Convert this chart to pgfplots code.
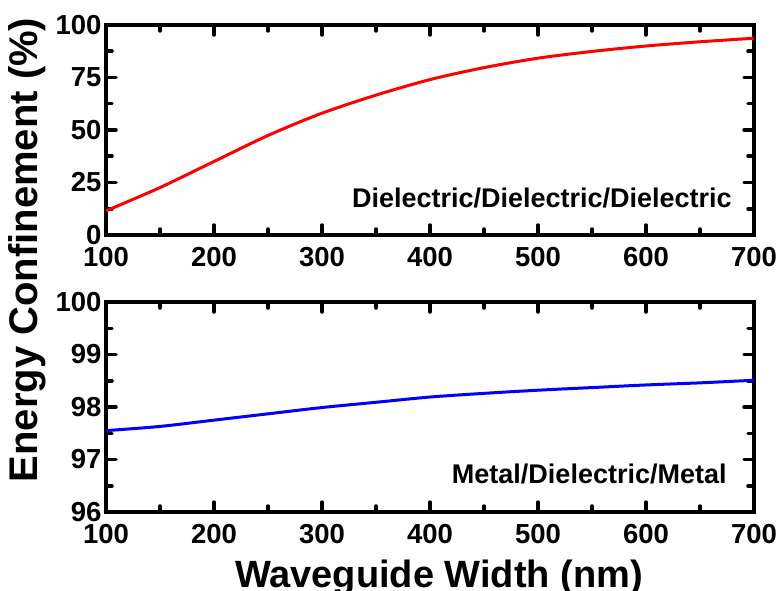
\documentclass[border=0pt]{standalone}
\usepackage{pgfplots}
\pgfplotsset{compat=1.18}
\usepackage{fontspec}
\setmainfont{Liberation Sans}
\begin{document}
\begin{tikzpicture}
\useasboundingbox (0pt,0pt) rectangle (778pt,590pt);
\pgfplotsset{
  myax/.style={
    scale only axis, width=648pt, height=210pt,
    anchor=south west,
    xmin=100, xmax=700,
    xtick={100,200,...,700},
    minor x tick num=1,
    minor y tick num=1,
    axis line style={line width=3.5pt},
    tick style={line width=3.5pt, line cap=round, black},
    major tick length=10pt,
    minor tick length=6pt,
    tick align=inside,
    tick pos=both,
    xticklabel pos=left, yticklabel pos=left,
    ticklabel style={font=\fontsize{27.5}{32}\selectfont\bfseries},
    /pgf/number format/assume math mode=true,
    /pgf/number format/1000 sep={},
    x tick label style={yshift=-9pt},
    y tick label style={xshift=-1pt},
    clip=false,
  }
}
\begin{axis}[myax, at={(106pt,355pt)},
  ymin=0, ymax=100, ytick={0,25,50,75,100}]
\addplot[red, line width=3pt, smooth] coordinates {
(100,11.5) (150,22.6) (200,35) (250,47.4) (300,58) (350,66.6) (400,74)
(450,79.7) (500,84.2) (550,87.4) (600,90) (650,92) (700,93.7)};
\node[anchor=base east, inner sep=0pt, font=\fontsize{27}{30}\selectfont\bfseries] at (rel axis cs:0.966,0.133) {Dielectric/Dielectric/Dielectric};
\end{axis}
\begin{axis}[myax, at={(106pt,78pt)},
  ymin=96, ymax=100, ytick={96,97,98,99,100}]
\addplot[blue, line width=3pt, smooth] coordinates {
(100,97.55) (150,97.63) (200,97.75) (250,97.87) (300,97.99) (350,98.09) (400,98.19)
(450,98.26) (500,98.32) (550,98.37) (600,98.42) (650,98.46) (700,98.51)};
\node[anchor=base east, inner sep=0pt, font=\fontsize{27}{30}\selectfont\bfseries] at (rel axis cs:0.958,0.138) {Metal/Dielectric/Metal};
\end{axis}
\node[anchor=base, inner sep=0pt, rotate=90, font=\fontsize{40}{44}\selectfont\bfseries] at (37pt,340pt) {Energy Confinement (\%)};
\node[anchor=base, inner sep=0pt, font=\fontsize{38}{44}\selectfont\bfseries] at (439pt,3pt) {Waveguide Width (nm)};
\end{tikzpicture}
\end{document}
